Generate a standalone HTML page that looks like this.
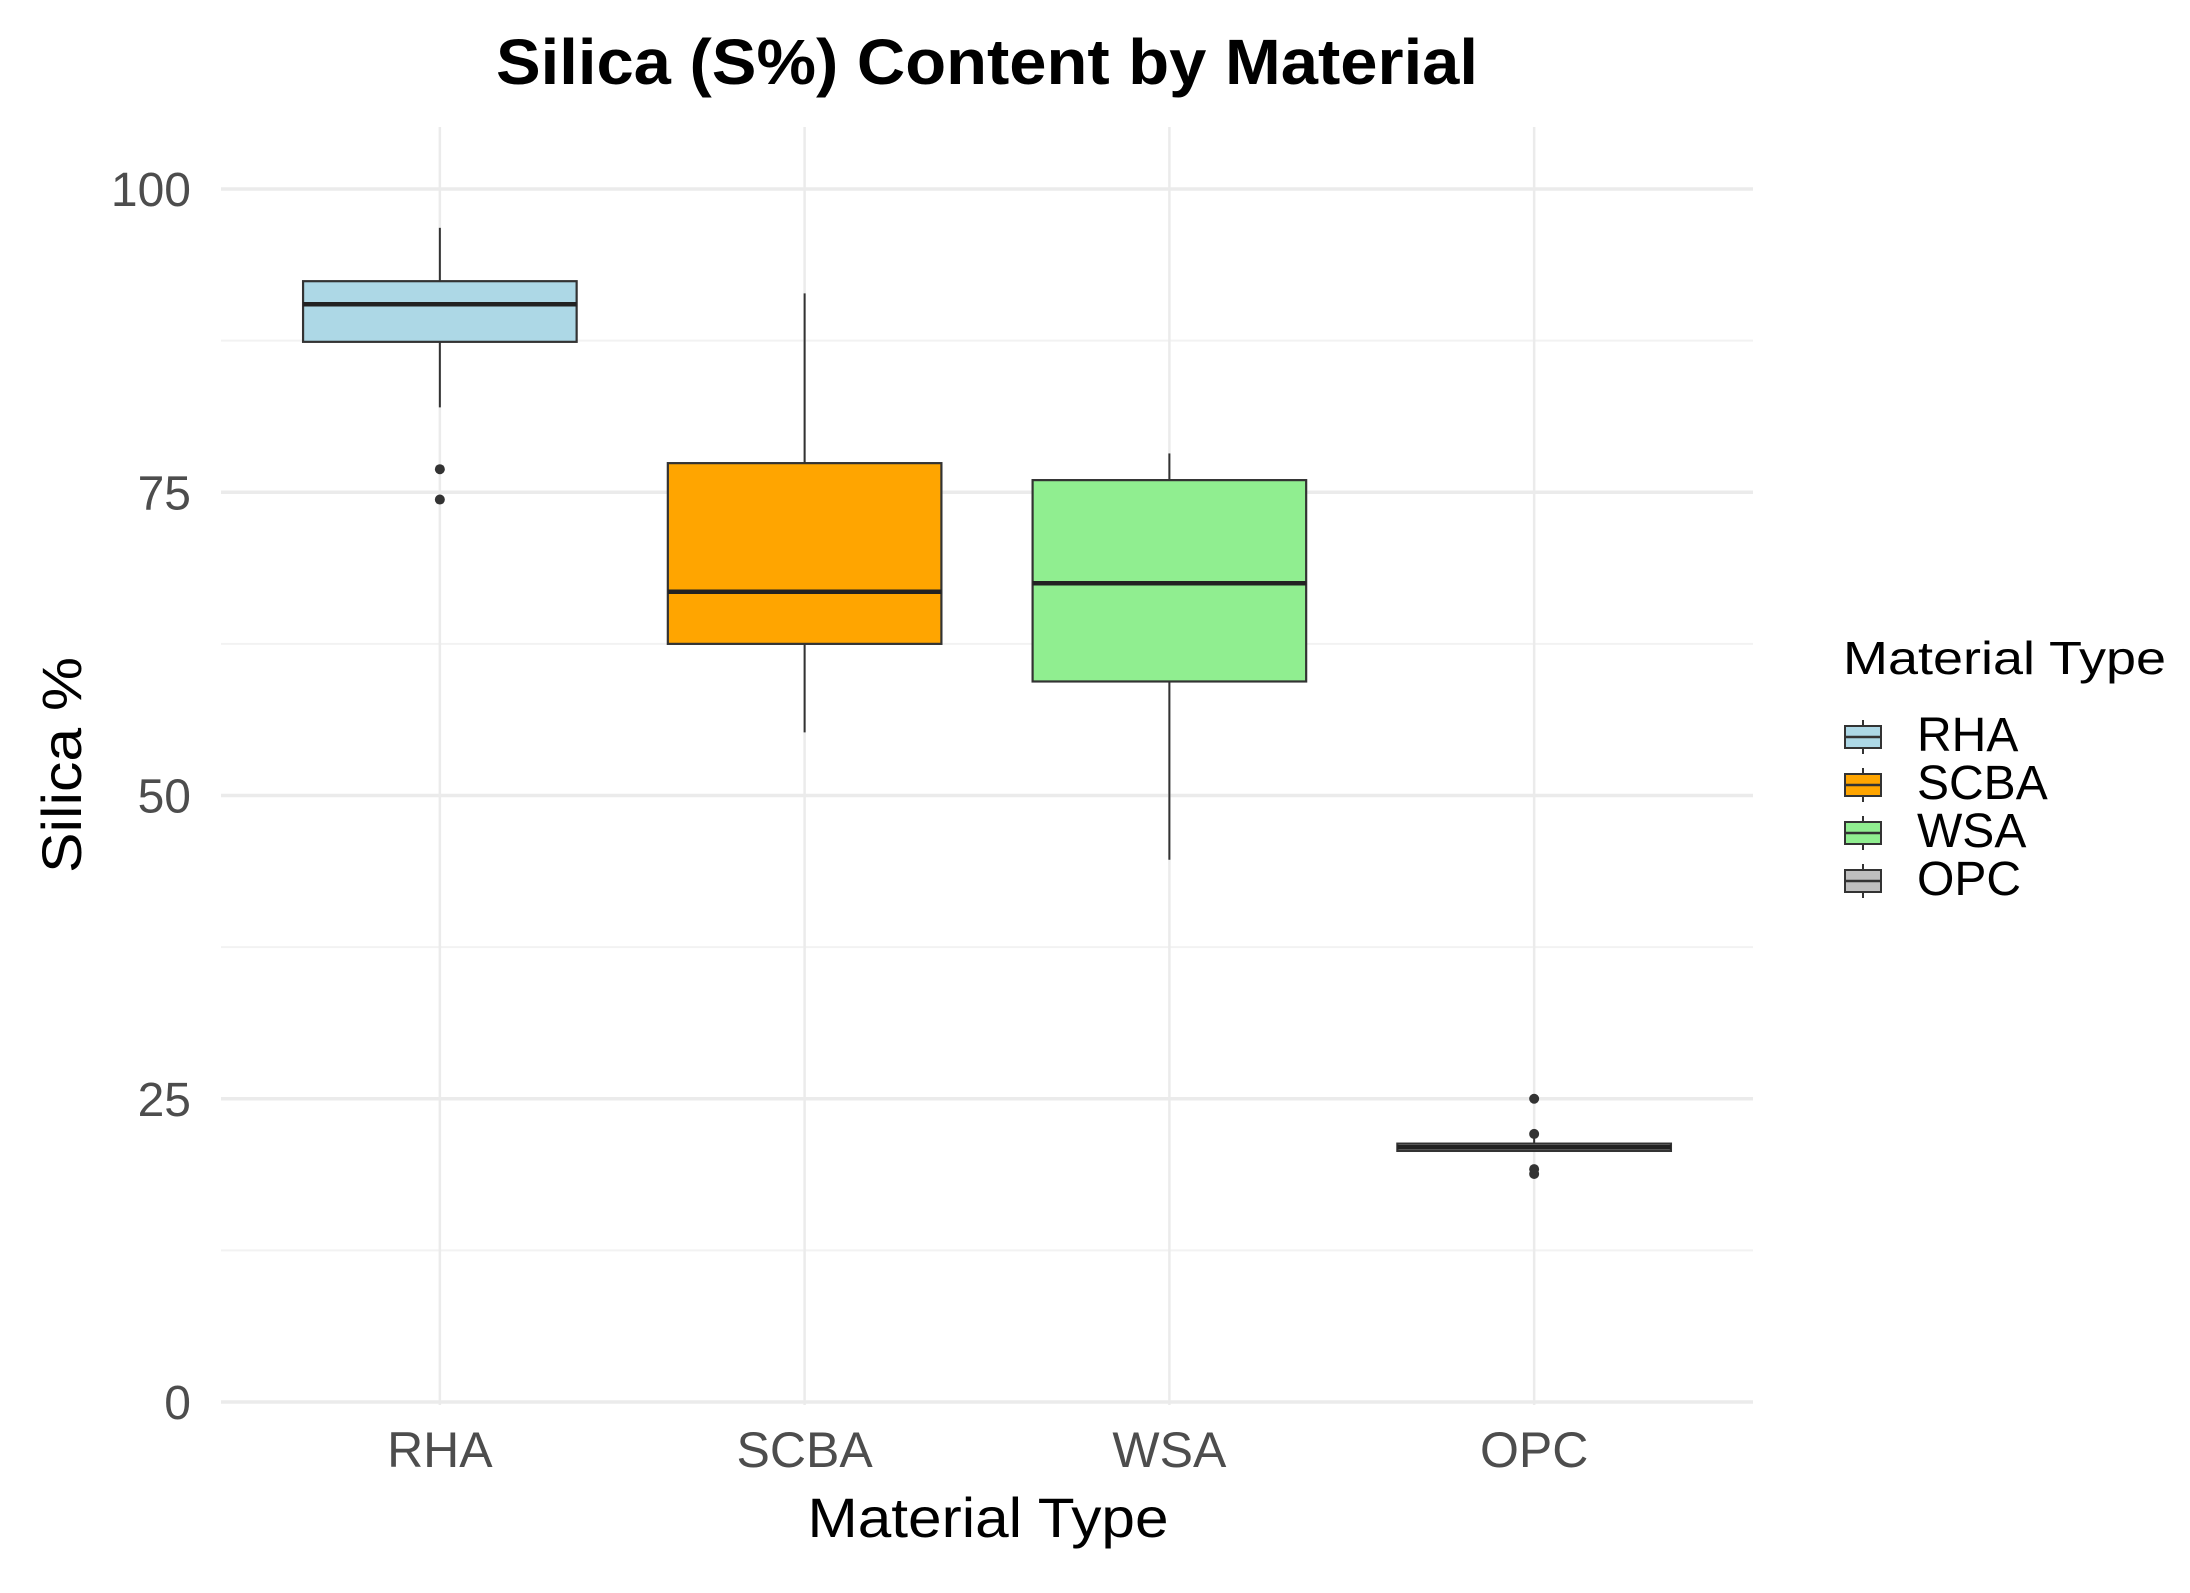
<!DOCTYPE html>
<html><head><meta charset="utf-8">
<style>
html,body{margin:0;padding:0;background:#fff;}
svg{display:block;font-family:"Liberation Sans",Arial,sans-serif;}
</style></head>
<body>
<svg id="chart" width="2190" height="1593" viewBox="0 0 2190 1593" xmlns="http://www.w3.org/2000/svg">
<rect width="2190" height="1593" fill="#fff"/>
<g id="grid"></g>
<g id="boxes"></g>
<g id="axes"></g>
<text x="987" y="84" text-anchor="middle" font-size="64" font-weight="bold" textLength="982" lengthAdjust="spacingAndGlyphs" fill="#000">Silica (S%) Content by Material</text>
<text x="988" y="1537" text-anchor="middle" font-size="56" textLength="361" lengthAdjust="spacingAndGlyphs" fill="#000">Material Type</text>
<text transform="translate(81,765) rotate(-90)" text-anchor="middle" font-size="56" textLength="216" lengthAdjust="spacingAndGlyphs" fill="#000">Silica %</text>
<g id="legend">
<text x="1843" y="674" font-size="46" textLength="323" lengthAdjust="spacingAndGlyphs" fill="#000">Material Type</text>
</g>
</svg>
<script>
const categories = ["RHA", "SCBA", "WSA", "OPC"];
const colors = ["#add8e6", "#ffa500", "#90ee90", "#bebebe"];
const whiskerLow = [82.0, 55.2, 44.7, 20.7];
const q1 = [87.4, 62.5, 59.4, 20.7];
const median = [90.5, 66.8, 67.5, 21.0];
const q3 = [92.4, 77.4, 76.0, 21.3];
const whiskerHigh = [96.8, 91.4, 78.2, 22.0];
const outliers = [[76.9, 74.4], [], [], [25.0, 22.1, 19.2, 18.8]];
const yTicks = [0, 25, 50, 75, 100];
const yMinor = [12.5, 37.5, 62.5, 87.5];

const NS = "http://www.w3.org/2000/svg";
const panel = {left: 221, right: 1753, top: 127, bottom: 1405};
const yScale = v => 1402 - v * 12.13;
const bandStep = (panel.right - panel.left) / (categories.length + 0.2);
const xScale = i => panel.left + bandStep * (0.6 + i);
const boxW = bandStep * 0.75;

function mk(tag, attrs, parent) {
  const el = document.createElementNS(NS, tag);
  for (const k in attrs) el.setAttribute(k, attrs[k]);
  parent.appendChild(el);
  return el;
}
const grid = document.getElementById('grid');
const boxes = document.getElementById('boxes');
const axes = document.getElementById('axes');
const legend = document.getElementById('legend');

yMinor.forEach(v => {
  const l = mk('line', {x1: panel.left, x2: panel.right, y1: yScale(v), y2: yScale(v), stroke: '#f2f2f2', 'stroke-width': 2}, grid);
  
  
});
yTicks.forEach(v => {
  const l = mk('line', {x1: panel.left, x2: panel.right, y1: yScale(v), y2: yScale(v), stroke: '#ebebeb', 'stroke-width': 3.5}, grid);
  
  
  const t = mk('text', {x: 191, y: yScale(v) + 17, 'text-anchor': 'end', 'font-size': 48, fill: '#4d4d4d'}, axes);
  t.textContent = String(v);
  
  
});
categories.forEach((c, i) => {
  const x = xScale(i);
  const l = mk('line', {x1: x, x2: x, y1: panel.top, y2: panel.bottom, stroke: '#ebebeb', 'stroke-width': 2.5}, grid);
  
  
  const t = mk('text', {x: x, y: 1467, 'text-anchor': 'middle', 'font-size': 50, fill: '#4d4d4d'}, axes);
  t.textContent = c;
  
  

  const g = mk('g', {}, boxes);
  
  
  const w1 = mk('line', {x1: x, x2: x, y1: yScale(q3[i]), y2: yScale(whiskerHigh[i]), stroke: '#333', 'stroke-width': 2}, g);
  
  
  const w2 = mk('line', {x1: x, x2: x, y1: yScale(q1[i]), y2: yScale(whiskerLow[i]), stroke: '#333', 'stroke-width': 2}, g);
  
  
  const r = mk('rect', {x: x - boxW / 2, y: yScale(q3[i]), width: boxW, height: Math.max(yScale(q1[i]) - yScale(q3[i]), 0.5), fill: colors[i], stroke: '#333', 'stroke-width': 2.2}, g);
  
  
  const m = mk('line', {x1: x - boxW / 2, x2: x + boxW / 2, y1: yScale(median[i]), y2: yScale(median[i]), stroke: '#222', 'stroke-width': 4.5}, g);
  
  
  outliers[i].forEach(v => {
    const p = mk('circle', {cx: x, cy: yScale(v), r: 5, fill: '#333'}, g);
    
    
  });

  const ly = 737 + i * 48;
  const lg = mk('g', {}, legend);
  
  
  mk('line', {x1: 1863, x2: 1863, y1: ly - 17, y2: ly + 17, stroke: '#333', 'stroke-width': 2}, lg);
  mk('rect', {x: 1845, y: ly - 11, width: 36, height: 22, fill: colors[i], stroke: '#333', 'stroke-width': 2}, lg);
  mk('line', {x1: 1845, x2: 1881, y1: ly, y2: ly, stroke: '#333', 'stroke-width': 2.5}, lg);
  const lt = mk('text', {x: 1917, y: ly + 14, 'font-size': 48, fill: '#000'}, lg);
  lt.textContent = c;
  
  
});
</script>
</body></html>
